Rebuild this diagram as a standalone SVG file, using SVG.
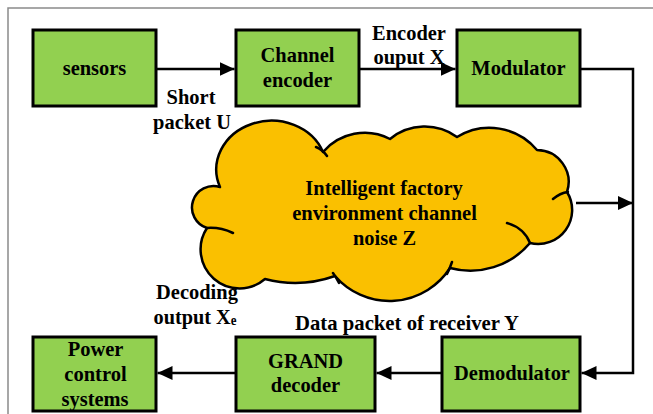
<svg xmlns="http://www.w3.org/2000/svg" width="653" height="414" viewBox="0 0 653 414">
<style>
.box{fill:#92D050;stroke:#000;stroke-width:3}
.t{font-family:"Liberation Serif","Times New Roman",serif;font-weight:bold;font-size:22px;fill:#000;text-anchor:middle}
.ln{fill:none;stroke:#000;stroke-width:2.5}
.cloud{fill:#FAC000;stroke:#000;stroke-width:2.5;stroke-linejoin:round}
.inner{fill:none;stroke:#000;stroke-width:2.5;stroke-linecap:round}
</style>
<defs>
<marker id="ah" markerUnits="userSpaceOnUse" markerWidth="15" markerHeight="14" refX="15" refY="7" orient="auto">
<path d="M0,0 L15,7 L0,14 Z" fill="#000"/>
</marker>
</defs>
<rect width="653" height="414" fill="#fff"/>
<path d="M8,414 V8 H653" fill="none" stroke="#8a8a8a" stroke-width="1.5"/>

<g id="connectors">
<line class="ln" x1="156" y1="69" x2="234.5" y2="69" marker-end="url(#ah)"/>
<line class="ln" x1="359" y1="69" x2="455.5" y2="69" marker-end="url(#ah)"/>
<polyline class="ln" points="580,69 633,69 633,373 581.5,373" marker-end="url(#ah)"/>
<line class="ln" x1="576" y1="203" x2="633" y2="203" marker-end="url(#ah)"/>
<line class="ln" x1="442" y1="373" x2="376.5" y2="373" marker-end="url(#ah)"/>
<line class="ln" x1="236" y1="373" x2="157.5" y2="373" marker-end="url(#ah)"/>
</g>

<g id="sensors">
<rect class="box" x="33" y="30" width="123" height="76"/>
<text class="t" x="94.5" y="75" textLength="63.6" lengthAdjust="spacingAndGlyphs">sensors</text>
</g>
<g id="channel-encoder">
<rect class="box" x="236" y="30" width="123" height="76"/>
<text class="t" x="297.5" y="62" textLength="73.9" lengthAdjust="spacingAndGlyphs">Channel</text>
<text class="t" x="297.5" y="87" textLength="69.3" lengthAdjust="spacingAndGlyphs">encoder</text>
</g>
<g id="modulator">
<rect class="box" x="457" y="30" width="123" height="76"/>
<text class="t" x="518.5" y="75" textLength="94.3" lengthAdjust="spacingAndGlyphs">Modulator</text>
</g>

<g id="channel-noise">
<path class="cloud" d="M220,187 A52,46 0 0 1 323,152 A55,55 0 0 1 390,139 A55,55 0 0 1 457,137 A62,62 0 0 1 537,150 A32,32 0 0 1 567,192 A34,34 0 0 1 530,243 A78,78 0 0 1 450,268 A72,72 0 0 1 335,276 A120,120 0 0 1 265,279 A39,39 0 0 1 207,228 A20,20 0 0 1 220,187 Z"/>
<path class="inner" d="M207,228 Q220,227 233,233 M316,147 Q323,150 327,156 M568,192 Q560,193 553,199 M530,243 Q524,228 507,223 M447,274 Q450,268 452,262 M333,273 Q336,277 339,283"/>
<text class="t" x="384" y="195" textLength="157.4" lengthAdjust="spacingAndGlyphs">Intelligent factory</text>
<text class="t" x="384.5" y="220" textLength="184.7" lengthAdjust="spacingAndGlyphs">environment channel</text>
<text class="t" x="384.5" y="245" textLength="63.1" lengthAdjust="spacingAndGlyphs">noise Z</text>
</g>

<g id="power-control-systems">
<rect class="box" x="33" y="337" width="123" height="74"/>
<text class="t" x="95.5" y="356" textLength="55.7" lengthAdjust="spacingAndGlyphs">Power</text>
<text class="t" x="95.5" y="381" textLength="62.5" lengthAdjust="spacingAndGlyphs">control</text>
<text class="t" x="95" y="406" textLength="67" lengthAdjust="spacingAndGlyphs">systems</text>
</g>
<g id="grand-decoder">
<rect class="box" x="236" y="337" width="139" height="74"/>
<text class="t" x="305.5" y="368" textLength="75" lengthAdjust="spacingAndGlyphs">GRAND</text>
<text class="t" x="305.5" y="392" textLength="69.3" lengthAdjust="spacingAndGlyphs">decoder</text>
</g>
<g id="demodulator">
<rect class="box" x="442" y="337" width="138" height="74"/>
<text class="t" x="512" y="380" textLength="115.9" lengthAdjust="spacingAndGlyphs">Demodulator</text>
</g>

<g id="labels">
<text class="t" x="409" y="40" textLength="73.9" lengthAdjust="spacingAndGlyphs">Encoder</text>
<text class="t" x="409" y="64" textLength="71.1" lengthAdjust="spacingAndGlyphs">ouput X</text>
<text class="t" x="191" y="104" textLength="48.9" lengthAdjust="spacingAndGlyphs">Short</text>
<text class="t" x="192" y="129" textLength="77.8" lengthAdjust="spacingAndGlyphs">packet U</text>
<text class="t" x="197" y="299" textLength="81.8" lengthAdjust="spacingAndGlyphs">Decoding</text>
<text class="t" x="195" y="324" textLength="83" lengthAdjust="spacingAndGlyphs">output X<tspan font-size="14" dy="1">e</tspan></text>
<text class="t" x="407" y="330" textLength="224" lengthAdjust="spacingAndGlyphs">Data packet of receiver Y</text>
</g>
</svg>
